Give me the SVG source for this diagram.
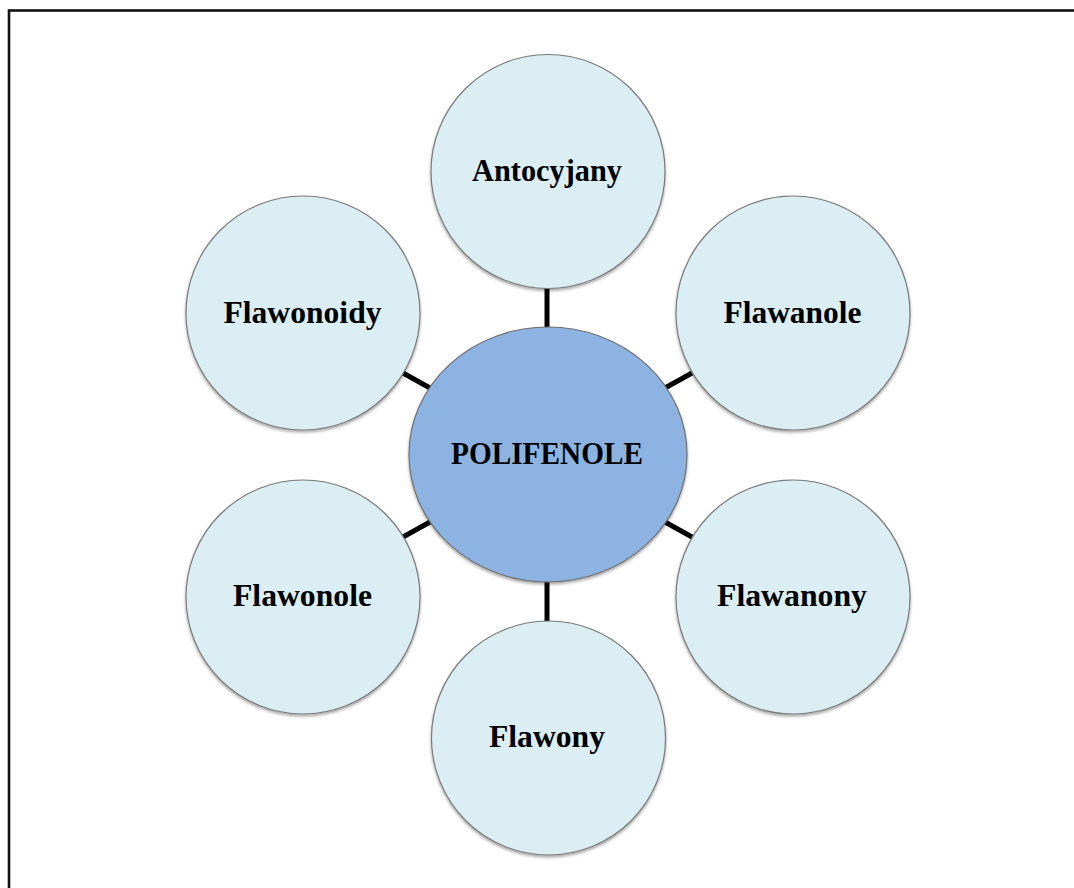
<svg xmlns="http://www.w3.org/2000/svg" width="1074" height="888" viewBox="0 0 1074 888">
  <defs>
    <filter id="sh" x="-10%" y="-10%" width="120%" height="125%">
      <feDropShadow dx="0" dy="2" stdDeviation="1.5" flood-color="#000" flood-opacity="0.35"/>
    </filter>
  </defs>
  <style>
    .node { fill: #DAEEF3; stroke: #7a7a7a; stroke-width: 1.2; filter: url(#sh); }
    .hub { fill: #8DB3E2; stroke: #6f6f6f; stroke-width: 1.2; filter: url(#sh); }
    .lbl { font-family: "Liberation Serif", "Times New Roman", serif; font-weight: bold; font-size: 30.5px; fill: #000; text-anchor: middle; }
    .conn line { stroke: #000; stroke-width: 5; }
  </style>
  <rect x="0" y="0" width="1074" height="888" fill="#fff"/>
  <rect x="9" y="10.5" width="1100" height="900" fill="none" stroke="#111" stroke-width="2.6"/>
  <g id="connectors" class="conn">
    <line x1="547" y1="287" x2="547" y2="328"/>
    <line x1="547" y1="581" x2="547" y2="622"/>
    <line x1="403" y1="373" x2="430" y2="388"/>
    <line x1="665" y1="388" x2="692" y2="373"/>
    <line x1="403" y1="537" x2="430" y2="522"/>
    <line x1="665" y1="522" x2="692" y2="537"/>
  </g>
  <g id="node-antocyjany">
    <circle class="node" cx="548" cy="171.5" r="117"/>
    <text class="lbl" x="547" y="181" textLength="150" lengthAdjust="spacingAndGlyphs">Antocyjany</text>
  </g>
  <g id="node-flawonoidy">
    <circle class="node" cx="303" cy="313" r="117"/>
    <text class="lbl" x="302.5" y="323" textLength="158" lengthAdjust="spacingAndGlyphs">Flawonoidy</text>
  </g>
  <g id="node-flawanole">
    <circle class="node" cx="793" cy="313" r="117"/>
    <text class="lbl" x="792.5" y="323" textLength="138" lengthAdjust="spacingAndGlyphs">Flawanole</text>
  </g>
  <g id="node-flawonole">
    <circle class="node" cx="303" cy="597" r="117"/>
    <text class="lbl" x="302.5" y="606" textLength="139" lengthAdjust="spacingAndGlyphs">Flawonole</text>
  </g>
  <g id="node-flawanony">
    <circle class="node" cx="793" cy="597" r="117"/>
    <text class="lbl" x="792" y="606" textLength="150" lengthAdjust="spacingAndGlyphs">Flawanony</text>
  </g>
  <g id="node-flawony">
    <circle class="node" cx="548.5" cy="738" r="117"/>
    <text class="lbl" x="547" y="747" textLength="116" lengthAdjust="spacingAndGlyphs">Flawony</text>
  </g>
  <g id="node-polifenole">
    <ellipse class="hub" cx="548" cy="454.5" rx="139" ry="127.5"/>
    <text class="lbl" x="547" y="464" textLength="192" lengthAdjust="spacingAndGlyphs">POLIFENOLE</text>
  </g>
</svg>
